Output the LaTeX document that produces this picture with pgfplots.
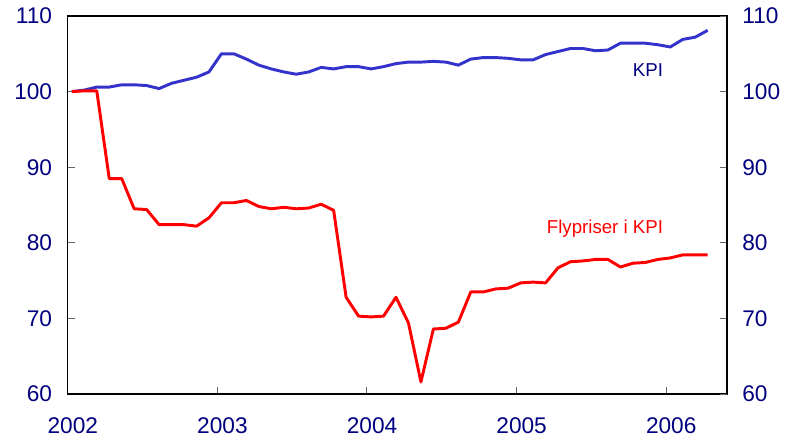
\documentclass[border=0pt]{standalone}
\usepackage{fontspec}
\setmainfont{Liberation Sans}
\usepackage{pgfplots}
\pgfplotsset{compat=1.18}
\usetikzlibrary{calc}
\definecolor{kpiblue}{RGB}{51,51,204}
\definecolor{labnavy}{RGB}{0,0,128}
\definecolor{flyred}{RGB}{255,0,0}

\pgfplotstableread{
m  kpi   fly
0  100.0 100.0
1  100.2 100.1
2  100.6 100.1
3  100.6 88.5
4  100.9 88.5
5  100.9 84.5
6  100.8 84.4
7  100.4 82.4
8  101.1 82.4
9  101.5 82.4
10 101.9 82.2
11 102.6 83.3
12 105.0 85.3
13 105.0 85.3
14 104.3 85.6
15 103.5 84.8
16 103.0 84.5
17 102.6 84.7
18 102.3 84.5
19 102.6 84.6
20 103.2 85.1
21 103.0 84.3
22 103.3 72.8
23 103.3 70.3
24 103.0 70.2
25 103.3 70.3
26 103.7 72.8
27 103.9 69.4
28 103.9 61.6
29 104.0 68.6
30 103.9 68.7
31 103.5 69.5
32 104.3 73.5
33 104.5 73.5
34 104.5 73.9
35 104.4 74.0
36 104.2 74.7
37 104.2 74.8
38 104.9 74.7
39 105.3 76.7
40 105.7 77.5
41 105.7 77.6
42 105.4 77.8
43 105.5 77.8
44 106.4 76.8
45 106.4 77.3
46 106.4 77.4
47 106.2 77.8
48 105.9 78.0
49 106.9 78.4
50 107.2 78.4
51 108.1 78.4
}\prices

\pgfplotsset{
  base/.style={
    scale only axis, width=494.6pt, height=283.5pt,
    xmin=-0.35, xmax=52.55, ymin=60, ymax=110,
    ytick={60,70,...,110},
    tick align=inside, major tick length=5.5pt,
    tick style={black!60, line width=0.6pt},
    axis line style={line width=0.8pt},
    tick label style={font=\fontsize{17}{20}\selectfont, text=labnavy},
    /pgf/number format/assume math mode=true,
  },
}

\begin{document}
\begin{tikzpicture}
\begin{axis}[base,
  name=main,
  xtick={-0.35,11.65,23.65,35.65,47.65},
  xticklabels={2002,2003,2004,2005,2006},
  xtick pos=bottom, ytick pos=left,
  xticklabel style={yshift=-14pt, xshift=4pt},
  yticklabel style={xshift=-8pt},
  clip=false,
]
\addplot[kpiblue, line width=2.2pt, line join=round] table[x=m, y=kpi] {\prices};
\addplot[flyred, line width=2.2pt, line join=round] table[x=m, y=fly] {\prices};
% series labels
\node[anchor=east, text=labnavy, font=\fontsize{14}{17}\selectfont] at (axis cs:47.8,102.8) {KPI};
\node[anchor=east, text=flyred, font=\fontsize{14}{17}\selectfont] at (axis cs:47.8,81.9) {Flypriser i KPI};
\end{axis}
\begin{axis}[base,
  axis x line=none, axis y line*=right,
  yticklabel pos=right,
  yticklabel style={xshift=8pt},
]
\end{axis}
\pgfresetboundingbox
\path[use as bounding box] ($(main.south west)+(-50.6pt,-38.6pt)$) rectangle ($(main.north east)+(45.75pt,12pt)$);
\end{tikzpicture}
\end{document}
